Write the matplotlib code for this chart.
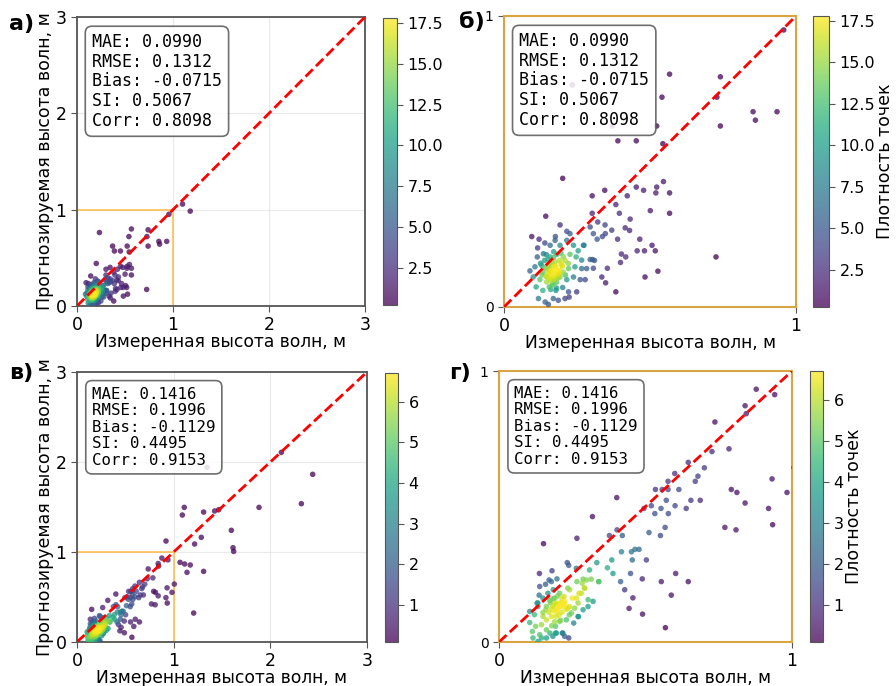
import numpy as np
import matplotlib
matplotlib.use('Agg')
import matplotlib.pyplot as plt
from matplotlib.patches import Rectangle

plt.rcParams['font.family'] = ['DejaVu Sans']

# данные: модель 1 (панели а, б)
x_ab = [0.958, 0.567, 0.741, 0.234, 0.541, 0.729, 0.853, 0.935, 0.861, 0.371,
        0.523, 0.741, 0.390, 0.453, 0.544, 0.201, 0.546, 0.453, 0.302, 0.345,
        0.422, 0.478, 0.520, 0.523, 0.567, 0.567, 0.501, 0.383, 0.302, 0.395,
        0.432, 0.143, 0.192, 0.321, 0.295, 0.346, 0.369, 0.415, 0.430, 0.215,
        0.226, 0.095, 0.120, 0.176, 0.306, 0.319, 0.337, 0.347, 0.389, 0.465,
        0.507, 0.456, 0.481, 0.518, 0.402, 0.417, 0.726, 0.399, 0.354, 0.335,
        0.483, 0.527, 0.348, 0.383, 0.115, 0.272, 0.254, 0.303, 0.306, 0.278,
        0.249, 0.223, 1.100, 1.180, 0.089,
        # плотное ядро
        0.140, 0.158, 0.175, 0.192, 0.215, 0.238, 0.274,
        0.114, 0.135, 0.158, 0.181, 0.203, 0.226, 0.247, 0.266, 0.295, 0.310,
        0.106, 0.129, 0.152, 0.175, 0.198, 0.221, 0.243, 0.266, 0.283,
        0.100, 0.123, 0.146, 0.169, 0.192, 0.215, 0.238, 0.261,
        0.110, 0.133, 0.155, 0.178, 0.201, 0.221,
        0.118, 0.141, 0.152, 0.169, 0.186, 0.209,
        0.158, 0.169, 0.181, 0.163, 0.175, 0.152, 0.186, 0.158, 0.175, 0.146,
        0.169, 0.139, 0.203, 0.209, 0.134, 0.165, 0.172, 0.160, 0.178, 0.190,
        0.150, 0.160, 0.170, 0.180, 0.190, 0.145, 0.155, 0.165, 0.185, 0.195,
        0.140, 0.200, 0.150, 0.170, 0.190, 0.160, 0.180, 0.130, 0.210, 0.175,
        0.165, 0.155, 0.185, 0.125, 0.220, 0.145, 0.195, 0.170, 0.160, 0.180]
y_ab = [0.952, 0.800, 0.791, 0.763, 0.721, 0.721, 0.671, 0.671, 0.642, 0.622,
        0.622, 0.622, 0.571, 0.571, 0.561, 0.442, 0.431, 0.412, 0.382, 0.401,
        0.382, 0.401, 0.392, 0.412, 0.392, 0.322, 0.331, 0.352, 0.322, 0.322,
        0.302, 0.312, 0.282, 0.292, 0.275, 0.282, 0.264, 0.272, 0.263, 0.260,
        0.252, 0.242, 0.233, 0.242, 0.252, 0.233, 0.242, 0.252, 0.233, 0.233,
        0.212, 0.193, 0.193, 0.193, 0.182, 0.172, 0.172, 0.153, 0.133, 0.103,
        0.103, 0.123, 0.083, 0.052, 0.203, 0.212, 0.193, 0.163, 0.133, 0.094,
        0.052, 0.034, 1.058, 0.985, 0.124,
        0.220, 0.212, 0.229, 0.212, 0.229, 0.212, 0.212,
        0.172, 0.183, 0.172, 0.181, 0.172, 0.181, 0.172, 0.161, 0.163, 0.160,
        0.138, 0.143, 0.132, 0.138, 0.143, 0.132, 0.138, 0.132, 0.132,
        0.103, 0.094, 0.103, 0.094, 0.103, 0.094, 0.103, 0.094,
        0.069, 0.057, 0.069, 0.057, 0.067, 0.052,
        0.029, 0.017, 0.009, 0.029, 0.023, 0.029,
        0.120, 0.115, 0.120, 0.109, 0.126, 0.115, 0.109, 0.149, 0.155, 0.086,
        0.080, 0.160, 0.120, 0.160, 0.120, 0.125, 0.105, 0.100, 0.140, 0.115,
        0.130, 0.125, 0.140, 0.130, 0.125, 0.105, 0.100, 0.150, 0.100, 0.150,
        0.135, 0.140, 0.165, 0.170, 0.160, 0.090, 0.085, 0.110, 0.110, 0.095,
        0.075, 0.140, 0.115, 0.150, 0.150, 0.180, 0.185, 0.190, 0.060, 0.065]

# данные: модель 2 (панели в, г)
x_vg = [0.878, 0.941, 0.840, 0.844, 0.737, 0.785, 0.727, 0.646, 0.701, 0.600,
        0.679, 0.670, 0.577, 0.534, 0.557, 0.577, 0.614, 0.793, 0.812, 0.932,
        0.983, 0.402, 0.571, 0.520, 0.553, 0.601, 0.655, 0.687, 0.639, 0.840,
        0.920, 0.495, 0.532, 0.578, 0.319, 0.934, 0.771, 0.809, 0.567, 0.512,
        0.551, 0.266, 0.377, 0.403, 0.421, 0.152, 0.418, 0.452, 0.464, 0.478,
        0.503, 0.334, 0.385, 0.455, 0.370, 0.389, 0.415, 0.449, 0.489, 0.554,
        0.603, 0.646, 0.429, 0.457, 0.444, 0.490, 0.588, 0.568, 0.138, 0.181,
        0.238, 0.264, 0.179, 0.198, 0.159, 0.185, 0.137, 0.130, 0.214, 0.233,
        0.309, 0.341, 0.287, 0.266, 0.292, 0.273, 0.241, 0.304, 0.271, 0.255,
        0.193, 0.218, 0.238, 0.224, 0.171, 0.139,
        # x > 1
        2.114, 2.438, 2.321, 1.883, 1.110, 1.090, 1.310, 1.424, 1.466, 1.597,
        1.614, 1.621, 1.286, 1.217, 1.066, 1.114, 1.172, 1.138, 1.310, 1.207,
        1.007, 1.345, 0.921,
        # плотное ядро
        0.105, 0.114, 0.116, 0.125, 0.121, 0.105, 0.133, 0.150, 0.162, 0.174,
        0.185, 0.196, 0.207, 0.218, 0.230, 0.196, 0.179, 0.162, 0.145, 0.162,
        0.174, 0.139, 0.193, 0.207, 0.230, 0.247, 0.258, 0.270, 0.264, 0.281,
        0.292, 0.284, 0.299, 0.315, 0.340, 0.235, 0.250, 0.222, 0.207, 0.190,
        0.167, 0.150, 0.133, 0.241, 0.270, 0.287, 0.304, 0.321, 0.216, 0.196,
        0.184, 0.162, 0.133, 0.145, 0.200, 0.215, 0.185, 0.225,
        0.180, 0.190, 0.200, 0.210, 0.220, 0.170, 0.205, 0.215, 0.185, 0.195,
        0.225, 0.175, 0.235, 0.160, 0.200, 0.190, 0.210, 0.180, 0.240, 0.150]
y_vg = [0.933, 0.913, 0.872, 0.843, 0.812, 0.713, 0.703, 0.663, 0.643, 0.622,
        0.612, 0.593, 0.593, 0.563, 0.563, 0.563, 0.563, 0.563, 0.552, 0.602,
        0.552, 0.533, 0.523, 0.503, 0.493, 0.503, 0.523, 0.523, 0.493, 0.513,
        0.493, 0.493, 0.474, 0.474, 0.463, 0.433, 0.423, 0.414, 0.423, 0.404,
        0.393, 0.383, 0.393, 0.414, 0.393, 0.363, 0.333, 0.333, 0.342, 0.342,
        0.303, 0.293, 0.303, 0.303, 0.274, 0.253, 0.223, 0.253, 0.233, 0.223,
        0.253, 0.223, 0.193, 0.163, 0.124, 0.103, 0.173, 0.053, 0.253, 0.263,
        0.283, 0.272, 0.223, 0.233, 0.213, 0.193, 0.173, 0.144, 0.144, 0.293,
        0.266, 0.223, 0.232, 0.223, 0.199, 0.180, 0.193, 0.156, 0.094, 0.070,
        0.033, 0.033, 0.015, 0.021, 0.229, 0.205,
        2.107, 1.863, 1.537, 1.496, 1.496, 1.411, 1.444, 1.456, 1.470, 1.241,
        1.048, 1.007, 1.163, 1.089, 0.885, 0.867, 0.856, 0.774, 0.785, 0.322,
        0.644, 1.941, 1.122,
        0.072, 0.039, 0.015, 0.058, 0.101, 0.113, 0.131, 0.109, 0.131, 0.153,
        0.131, 0.113, 0.131, 0.137, 0.121, 0.144, 0.094, 0.082, 0.064, 0.045,
        0.033, 0.027, 0.058, 0.076, 0.082, 0.107, 0.125, 0.144, 0.162, 0.180,
        0.199, 0.217, 0.229, 0.232, 0.223, 0.199, 0.162, 0.168, 0.180, 0.162,
        0.180, 0.162, 0.144, 0.131, 0.094, 0.119, 0.131, 0.150, 0.033, 0.033,
        0.021, 0.015, 0.002, 0.015, 0.120, 0.110, 0.115, 0.140,
        0.125, 0.140, 0.130, 0.145, 0.130, 0.110, 0.100, 0.160, 0.160, 0.095,
        0.150, 0.145, 0.125, 0.120, 0.170, 0.075, 0.080, 0.060, 0.100, 0.095]

stats_ab = "MAE: 0.0990\nRMSE: 0.1312\nBias: -0.0715\nSI: 0.5067\nCorr: 0.8098"
stats_vg = "MAE: 0.1416\nRMSE: 0.1996\nBias: -0.1129\nSI: 0.4495\nCorr: 0.9153"
range_ab = (0.24, 17.8)
range_vg = (0.09, 6.7)
cticks_ab = [2.5, 5.0, 7.5, 10.0, 12.5, 15.0, 17.5]
cticks_vg = [1, 2, 3, 4, 5, 6]


def kde_density(x, y, lo, hi, bw=0.7):
    # гауссово ядро, потом приводим к шкале цветовой панели
    xy = np.vstack([x, y])
    n = xy.shape[1]
    cov = np.cov(xy) * (n ** (-1 / 6) * bw) ** 2
    inv = np.linalg.inv(cov)
    dx = xy[0][:, None] - xy[0][None, :]
    dy = xy[1][:, None] - xy[1][None, :]
    q = inv[0, 0] * dx ** 2 + 2 * inv[0, 1] * dx * dy + inv[1, 1] * dy ** 2
    dens = np.exp(-0.5 * q).sum(axis=1)
    return lo + (dens - dens.min()) / (dens.max() - dens.min()) * (hi - lo)


fig = plt.figure(figsize=(8.96, 6.86), dpi=100)

panels = [
    # оси, цветовая шкала, набор, предел, буква, позиция буквы (px), подпись y, подпись шкалы
    ([0.0859, 0.5539, 0.3214, 0.4213], [0.4275, 0.5554, 0.0156, 0.4184], 'ab', 3, 'а)', (9, 14), True, False),
    ([0.5625, 0.5525, 0.3259, 0.4242], [0.9074, 0.5525, 0.0179, 0.4242], 'ab', 1, 'б)', (459, 12), False, True),
    ([0.0859, 0.0641, 0.3237, 0.3936], [0.4297, 0.0641, 0.0145, 0.3921], 'vg', 3, 'в)', (9, 363), True, False),
    ([0.5569, 0.0641, 0.3270, 0.3950], [0.9040, 0.0641, 0.0145, 0.3950], 'vg', 1, 'г)', (449, 363), False, True),
]

data = {
    'ab': (np.array(x_ab), np.array(y_ab), stats_ab, range_ab, cticks_ab, 12),
    'vg': (np.array(x_vg), np.array(y_vg), stats_vg, range_vg, cticks_vg, 11.3),
}

for pos, cpos, key, lim, letter, lpos, ylab, clab in panels:
    x, y, stats, (lo, hi), cticks, fs = data[key]
    z = kde_density(x, y, lo, hi)
    idx = z.argsort()
    ax = fig.add_axes(pos)
    cax = fig.add_axes(cpos)

    sc = ax.scatter(x[idx], y[idx], c=z[idx], s=16, cmap='viridis', alpha=0.75,
                    edgecolors='none', vmin=lo, vmax=hi, zorder=3)
    ax.plot([0, lim], [0, lim], color='red', ls='--', lw=2, zorder=4)
    ax.set_xlim(0, lim)
    ax.set_ylim(0, lim)
    ax.set_xticks(range(lim + 1))
    ax.set_yticks(range(lim + 1))
    ax.grid(True, color='#dddddd', lw=0.8, alpha=0.6)
    ax.set_axisbelow(True)

    if lim == 3:
        ax.add_patch(Rectangle((0, 0), 1, 1, fill=False, ec='orange', lw=1.3, alpha=0.6, zorder=2))
        for s in ax.spines.values():
            s.set_color('#555555')
            s.set_linewidth(1.3)
        ax.tick_params(labelsize=12.5, length=4, color='#555555')
    else:
        for s in ax.spines.values():
            s.set_color('#d9a441')
            s.set_linewidth(1.5)
        ax.tick_params(axis='x', labelsize=12.5, length=4, color='#555555')
        ax.tick_params(axis='y', labelsize=10, length=4, color='#555555')

    ax.text(0.052, 0.945, stats, transform=ax.transAxes, va='top', ha='left',
            family='DejaVu Sans Mono', fontsize=fs, zorder=5, linespacing=1.12,
            bbox=dict(boxstyle='round,pad=0.4', fc='white', ec='#555555', lw=1.2, alpha=0.85))

    ax.set_xlabel('Измеренная высота волн, м', fontsize=12.3, labelpad=-1)
    if ylab:
        ax.set_ylabel('Прогнозируемая высота волн, м', fontsize=12.5, labelpad=1)

    cb = fig.colorbar(sc, cax=cax, ticks=cticks)
    if key == 'ab':
        cb.ax.set_yticklabels(['%.1f' % t for t in cticks])
    cb.outline.set_edgecolor('#555555')
    cb.ax.tick_params(labelsize=11.5, length=4, color='#555555')
    if clab:
        cb.set_label('Плотность точек', fontsize=12.5, labelpad=1)

    fig.text(lpos[0] / 896, 1 - lpos[1] / 686, letter, fontsize=16,
             fontweight='bold', va='top', ha='left')

fig.savefig('out.png', dpi=100)
